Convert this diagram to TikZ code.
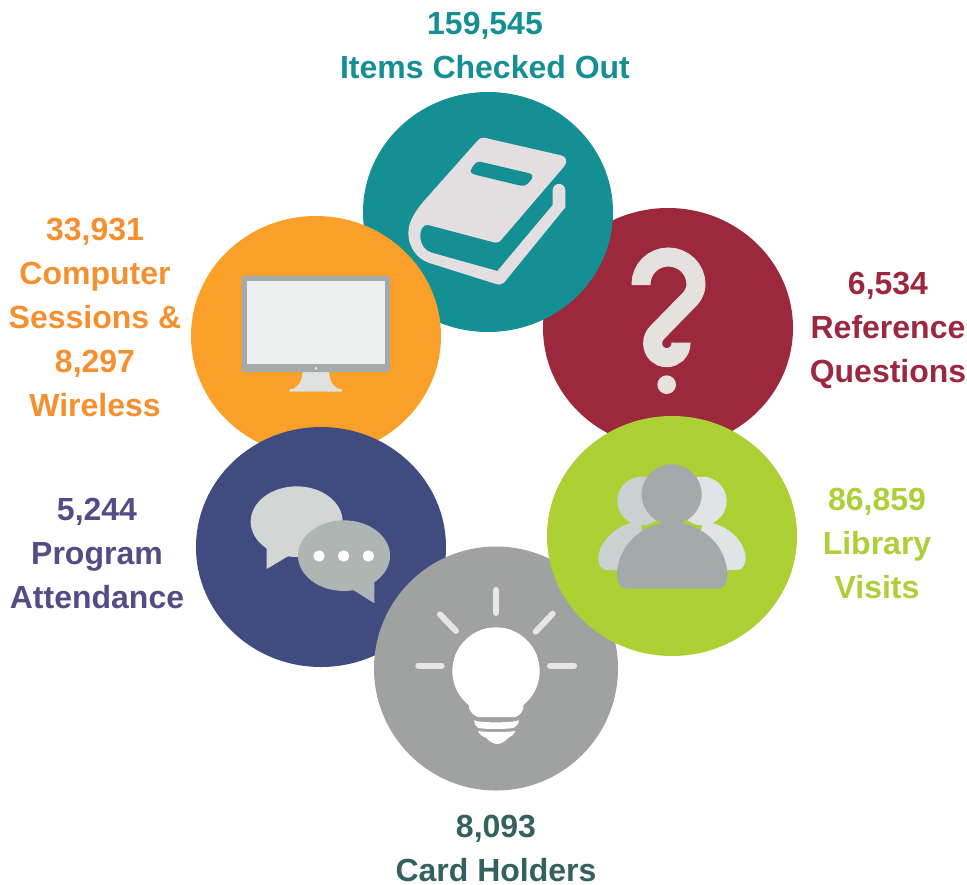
\documentclass[tikz,border=0pt]{standalone}
\usepackage{fontspec}
\setmainfont{Liberation Sans}
\definecolor{cteal}{HTML}{148F94}
\definecolor{cmaroon}{HTML}{9B283B}
\definecolor{cgreen}{HTML}{ADD035}
\definecolor{corange}{HTML}{FAA029}
\definecolor{cnavy}{HTML}{404C80}
\definecolor{cgrey}{HTML}{A0A2A1}
\definecolor{tteal}{HTML}{148F94}
\definecolor{torange}{HTML}{F6902F}
\definecolor{tmaroon}{HTML}{9B283F}
\definecolor{tgreen}{HTML}{ADCF37}
\definecolor{tnavy}{HTML}{544C84}
\definecolor{tdark}{HTML}{34605F}
\definecolor{cpaper}{HTML}{E3DEDF}
\definecolor{cframe}{HTML}{A5ABA8}
\definecolor{cscreen}{HTML}{EEF0EF}
\definecolor{cstand}{HTML}{DFE2E1}
\definecolor{cpersonL}{HTML}{C9D1D1}
\definecolor{cpersonR}{HTML}{E0E4E6}
\definecolor{cperson}{HTML}{A2AAAB}
\definecolor{cbubbleA}{HTML}{D2D6D5}
\definecolor{cbubbleB}{HTML}{AEB5B3}
\definecolor{cray}{HTML}{E6E6E4}
\definecolor{cquest}{HTML}{E5E1DF}
\tikzset{
  stat/.style={font=\fontsize{32}{44}\selectfont\bfseries, align=center, inner sep=0pt},
  zoomed/.style={shift={(#1)}, xscale=1/3, yscale=1/3},
  ray/.style={draw=cray, line width=6pt, line cap=round},
}
\begin{document}
\begin{tikzpicture}[x=1pt,y=-1pt]
\useasboundingbox (0,0) rectangle (967,884);
% discs
\fill[cmaroon] (668,328) ellipse [x radius=125, y radius=120];
\fill[cteal] (488,212) ellipse [x radius=125, y radius=120];
\fill[corange] (316,336) ellipse [x radius=125, y radius=120];
\fill[cnavy] (321,547) ellipse [x radius=125, y radius=120];
\fill[cgrey] (496,668.5) ellipse [x radius=122, y radius=122];
\fill[cgreen] (672,536) ellipse [x radius=125, y radius=120];
% book
\begin{scope}[zoomed={360,90}]
\fill[cpaper] (372,143) -- (603,196) .. controls (620,200) and (624,215) .. (612,230)
  -- (425,448) .. controls (418,457) and (410,460) .. (398,456)
  -- (205,405) .. controls (188,402) and (180,420) .. (181,440)
  .. controls (182,465) and (195,482) .. (215,488)
  -- (412,543) -- (578,345) -- (578,302)
  .. controls (578,275) and (616,275) .. (616,302) -- (616,352)
  -- (432,578) .. controls (425,585) and (415,585) .. (405,581)
  -- (205,518) .. controls (170,505) and (145,470) .. (145,430)
  .. controls (145,395) and (165,365) .. (190,335)
  -- (350,155) .. controls (358,146) and (364,142) .. (372,143) -- cycle;
\fill[cteal] (360,215) -- (505,249) .. controls (520,252) and (520,262) .. (511,272)
  .. controls (503,283) and (495,289) .. (482,287) -- (345,254)
  .. controls (330,250) and (329,243) .. (337,232)
  .. controls (345,220) and (350,213) .. (360,215) -- cycle;
\end{scope}
% question mark
\begin{scope}[zoomed={540,205}]
\draw[cquest, line width=19pt]
  (303,240) -- (303,238) .. controls (303,192) and (340,156) .. (385,156)
  .. controls (430,156) and (468,192) .. (468,238)
  .. controls (468,262) and (455,278) .. (435,297)
  -- (352,382) .. controls (342,392) and (338,403) .. (338,415)
  .. controls (338,440) and (357,458) .. (380,458)
  .. controls (403,458) and (423,440) .. (423,415) -- (423,413);
\fill[cquest] (380,539) circle [radius=28];
\end{scope}
% monitor
\begin{scope}[zoomed={190,215}]
\fill[cstand] (338,470) .. controls (335,505) and (322,520) .. (298,524) -- (298,530)
  -- (456,530) -- (456,524) .. controls (432,520) and (420,505) .. (417,470) -- cycle;
\fill[cframe, rounded corners=2pt] (155,182) rectangle (600,471);
\fill[cscreen] (172,198) rectangle (585,448);
\fill[cscreen] (378,460) circle [radius=4.5];
\end{scope}
% people
\begin{scope}[zoomed={540,415}]
\fill[cpersonL] (305,258) circle [radius=73];
\fill[cpersonL] (200,465) .. controls (185,465) and (175,450) .. (175,430)
  .. controls (175,385) and (225,325) .. (300,320) -- (340,465) -- cycle;
\fill[cpersonR] (487,258) circle [radius=73];
\fill[cpersonR] (592,465) .. controls (607,465) and (617,450) .. (617,430)
  .. controls (617,385) and (567,325) .. (490,320) -- (450,465) -- cycle;
\fill[cperson] (395,238) circle [radius=90];
\fill[cperson] (262,521) .. controls (242,521) and (231,505) .. (231,480)
  .. controls (231,395) and (305,322) .. (396,322)
  .. controls (487,322) and (562,395) .. (562,480)
  .. controls (562,505) and (551,521) .. (531,521) -- cycle;
\end{scope}
% light bulb
\begin{scope}[zoomed={370,545}]
\fill[white] (378,378) circle [radius=131];
\fill[white] (297,470) -- (297,490) .. controls (305,505) and (312,512) .. (322,516)
  -- (435,516) .. controls (447,512) and (455,505) .. (460,490) -- (460,470) -- cycle;
\fill[white] (312,526) .. controls (330,534) and (425,534) .. (447,526)
  .. controls (445,538) and (438,546) .. (430,549)
  .. controls (400,553) and (350,553) .. (325,549)
  .. controls (318,546) and (314,538) .. (312,526) -- cycle;
\fill[white] (324,558) .. controls (350,562) and (410,562) .. (436,558)
  .. controls (432,568) and (425,575) .. (415,578)
  .. controls (405,590) and (392,597) .. (382,597)
  .. controls (372,597) and (358,590) .. (348,578)
  .. controls (338,575) and (328,568) .. (324,558) -- cycle;
\draw[ray] (378,135) -- (378,204);
\draw[ray] (210,208) -- (258,258);
\draw[ray] (548,206) -- (497,260);
\draw[ray] (145,362) -- (215,362);
\draw[ray] (540,362) -- (612,362);
\end{scope}
% speech bubbles
\begin{scope}[zoomed={195,425}]
\fill[cbubbleA] (305,290) ellipse [x radius=138, y radius=106];
\fill[cbubbleA] (215,360) -- (215,432) -- (285,390) -- cycle;
\fill[cbubbleB] (447,392) ellipse [x radius=138, y radius=106];
\fill[cbubbleB] (538,465) -- (538,535) -- (470,492) -- cycle;
\fill[white] (372,393) circle [radius=17];
\fill[white] (446,393) circle [radius=17];
\fill[white] (520,393) circle [radius=17];
\end{scope}
% labels
\node[stat, text=tteal] (checked) at (485,45.5) {159,545\\Items Checked Out};
\node[stat, text=torange] (computer) at (95,317) {33,931\\Computer\\Sessions \&\\8,297\\Wireless};
\node[stat, text=tmaroon] (reference) at (888,330.5) {6,534\\Reference\\Questions};
\node[stat, text=tgreen] (visits) at (877,543) {86,859\\Library\\Visits};
\node[stat, text=tnavy] (program) at (97,553.5) {5,244\\Program\\Attendance};
\node[stat, text=tdark] (holders) at (496,848) {8,093\\Card Holders};
\end{tikzpicture}
\end{document}
